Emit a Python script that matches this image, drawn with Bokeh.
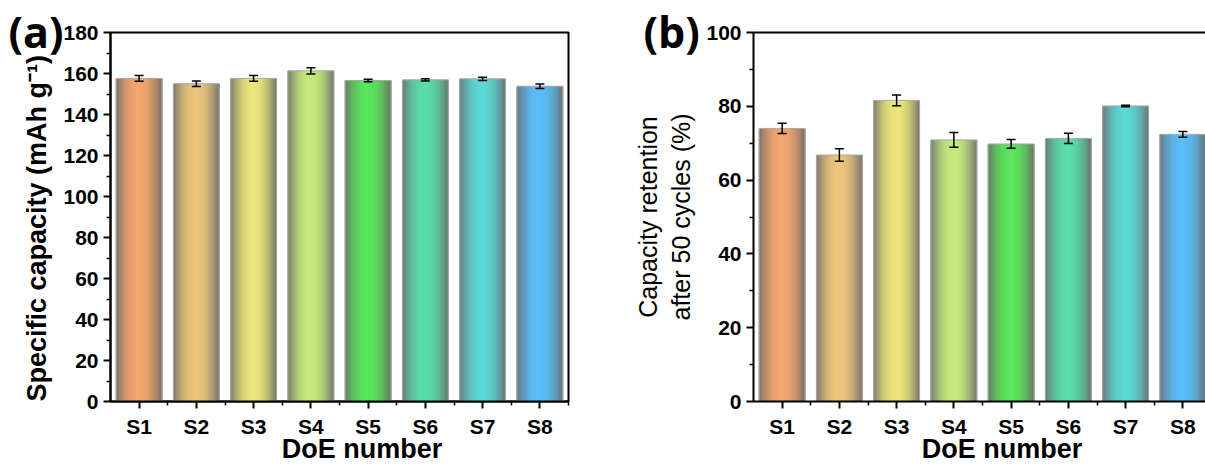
import numpy as np
from bokeh.plotting import figure
from bokeh.models import (ColumnDataSource, Whisker, TeeHead, FixedTicker,
                          LinearAxis, Range1d)
from bokeh.layouts import row
from bokeh.embed import file_html
from bokeh.resources import INLINE

# ---------------- data ----------------
categories = ["S1", "S2", "S3", "S4", "S5", "S6", "S7", "S8"]
capacity = [157.6, 155.0, 157.6, 161.3, 156.6, 156.9, 157.4, 153.8]
capacity_err = [1.4, 1.4, 1.4, 1.5, 0.6, 0.5, 0.8, 1.1]
retention = [74.0, 66.8, 81.6, 70.9, 69.8, 71.3, 80.1, 72.4]
retention_err = [1.4, 1.7, 1.45, 2.0, 1.2, 1.4, 0.2, 0.8]
bar_colors = ["#F2A66E", "#EBC67A", "#EBE67A", "#C6EA7E",
              "#5AE65A", "#5ADDAA", "#5AD9D6", "#5ABEF8"]
capacity_ticks = list(range(0, 181, 20))
capacity_minor = list(range(10, 181, 20))
retention_ticks = list(range(0, 101, 20))
retention_minor = list(range(10, 101, 20))

FONT = "Liberation Sans"
BAR_W = 0.8
N_STRIPS = 30
GRAY = (104, 104, 104)
NB = "\u00a0"


def mix(hexc, a):
    rgb = [int(hexc[i:i + 2], 16) for i in (1, 3, 5)]
    return "#%02x%02x%02x" % tuple(int(round(c * (1 - a) + g * a)) for c, g in zip(rgb, GRAY))


def make_panel(vals, errs, ticks, minor, ymax, width, border_left, border_right, xend,
               ylabel, ylabel_font_size, ylabel_style, full_box, tag, tag_offset):
    xs = list(range(1, len(categories) + 1))
    p = figure(width=width, height=466, output_backend="svg", toolbar_location=None,
               title=tag,
               x_range=Range1d(0.5, xend), y_range=Range1d(0, ymax),
               min_border_left=border_left, min_border_right=border_right,
               min_border_top=32, min_border_bottom=64)
    p.background_fill_color = "white"
    p.border_fill_color = "white"
    p.xgrid.visible = False
    p.ygrid.visible = False

    # panel tag as the figure title, pulled down beside the frame corner
    p.title.align = "left"
    p.title.offset = tag_offset
    p.title.standoff = -56
    p.title.text_font = "Open Sans"
    p.title.text_font_style = "bold"
    p.title.text_font_size = "43px"
    p.title.text_color = "black"

    # gradient bars (strips)
    sx, stop, scol = [], [], []
    for k in range(N_STRIPS):
        u = -1 + (2 * k + 1) / N_STRIPS
        a = 0.86 * abs(u) ** 2.0
        off = -BAR_W / 2 + (k + 0.5) * BAR_W / N_STRIPS
        for x, v, c in zip(xs, vals, bar_colors):
            sx.append(x + off)
            stop.append(v)
            scol.append(mix(c, a))
    strips = ColumnDataSource(dict(x=sx, top=stop, color=scol))
    p.vbar(x="x", top="top", bottom=0, width=BAR_W / N_STRIPS * 1.7, source=strips,
           fill_color="color", line_color=None)

    src = ColumnDataSource(dict(x=xs, top=vals,
                                upper=[v + e for v, e in zip(vals, errs)],
                                lower=[v - e for v, e in zip(vals, errs)]))
    p.vbar(x="x", top="top", bottom=0, width=BAR_W, source=src,
           fill_color=None, line_color="#A8A8A8", line_width=1)

    w = Whisker(source=src, base="x", upper="upper", lower="lower",
                line_color="black", line_width=1.5, level="overlay",
                upper_head=TeeHead(size=9, line_color="black", line_width=1.5),
                lower_head=TeeHead(size=9, line_color="black", line_width=1.5))
    p.add_layout(w)

    # axes
    p.xaxis.ticker = FixedTicker(ticks=xs, minor_ticks=[x + 0.5 for x in xs])
    p.xaxis.major_label_overrides = {x: c for x, c in zip(xs, categories)}
    p.yaxis.ticker = FixedTicker(ticks=ticks, minor_ticks=minor)
    for ax in (p.xaxis[0], p.yaxis[0]):
        ax.axis_line_width = 2
        ax.axis_line_color = "black"
        ax.major_tick_line_width = 2
        ax.minor_tick_line_width = 1.5
        ax.major_tick_in = 0
        ax.minor_tick_in = 0
        ax.major_tick_out = 7
        ax.minor_tick_out = 4
        ax.major_label_text_font = FONT
        ax.major_label_text_font_style = "bold"
        ax.major_label_text_font_size = "21px"
        ax.major_label_text_color = "black"
    p.xaxis.major_label_standoff = 6
    p.yaxis.major_label_standoff = 5

    p.yaxis.axis_label = ylabel
    p.yaxis.axis_label_text_font = FONT
    p.yaxis.axis_label_text_font_size = ylabel_font_size
    p.yaxis.axis_label_text_font_style = ylabel_style
    p.yaxis.axis_label_text_color = "black"
    p.yaxis.axis_label_standoff = 8

    p.xaxis.axis_label = NB * 6 + "DoE number"
    p.xaxis.axis_label_text_font = FONT
    p.xaxis.axis_label_text_font_style = "bold"
    p.xaxis.axis_label_text_font_size = "27px"
    p.xaxis.axis_label_text_color = "black"
    p.xaxis.axis_label_standoff = -7

    if full_box:
        p.outline_line_color = "black"
        p.outline_line_width = 2
        p.outline_line_alpha = 1
    else:
        p.outline_line_color = None
        top = LinearAxis(ticker=FixedTicker(ticks=[], minor_ticks=[]),
                         major_tick_line_color=None, minor_tick_line_color=None,
                         axis_line_width=2, axis_line_color="black",
                         major_label_standoff=0)
        p.add_layout(top, "above")
    return p


pa = make_panel(capacity, capacity_err, capacity_ticks, capacity_minor, 180,
                628, 110, 60, 8.5, "Specific capacity (mAh g\u207b\u00b9)" + NB * 3, "27px", "bold",
                True, "(a)", -102)
pb = make_panel(retention, retention_err, retention_ticks, retention_minor, 100,
                577, 125, 0, 8.395, "Capacity retention\nafter 50 cycles (%)", "25px", "normal",
                False, "(b)", -110)

layout = row(pa, pb)
open("out.html", "w").write(file_html(layout, INLINE))
